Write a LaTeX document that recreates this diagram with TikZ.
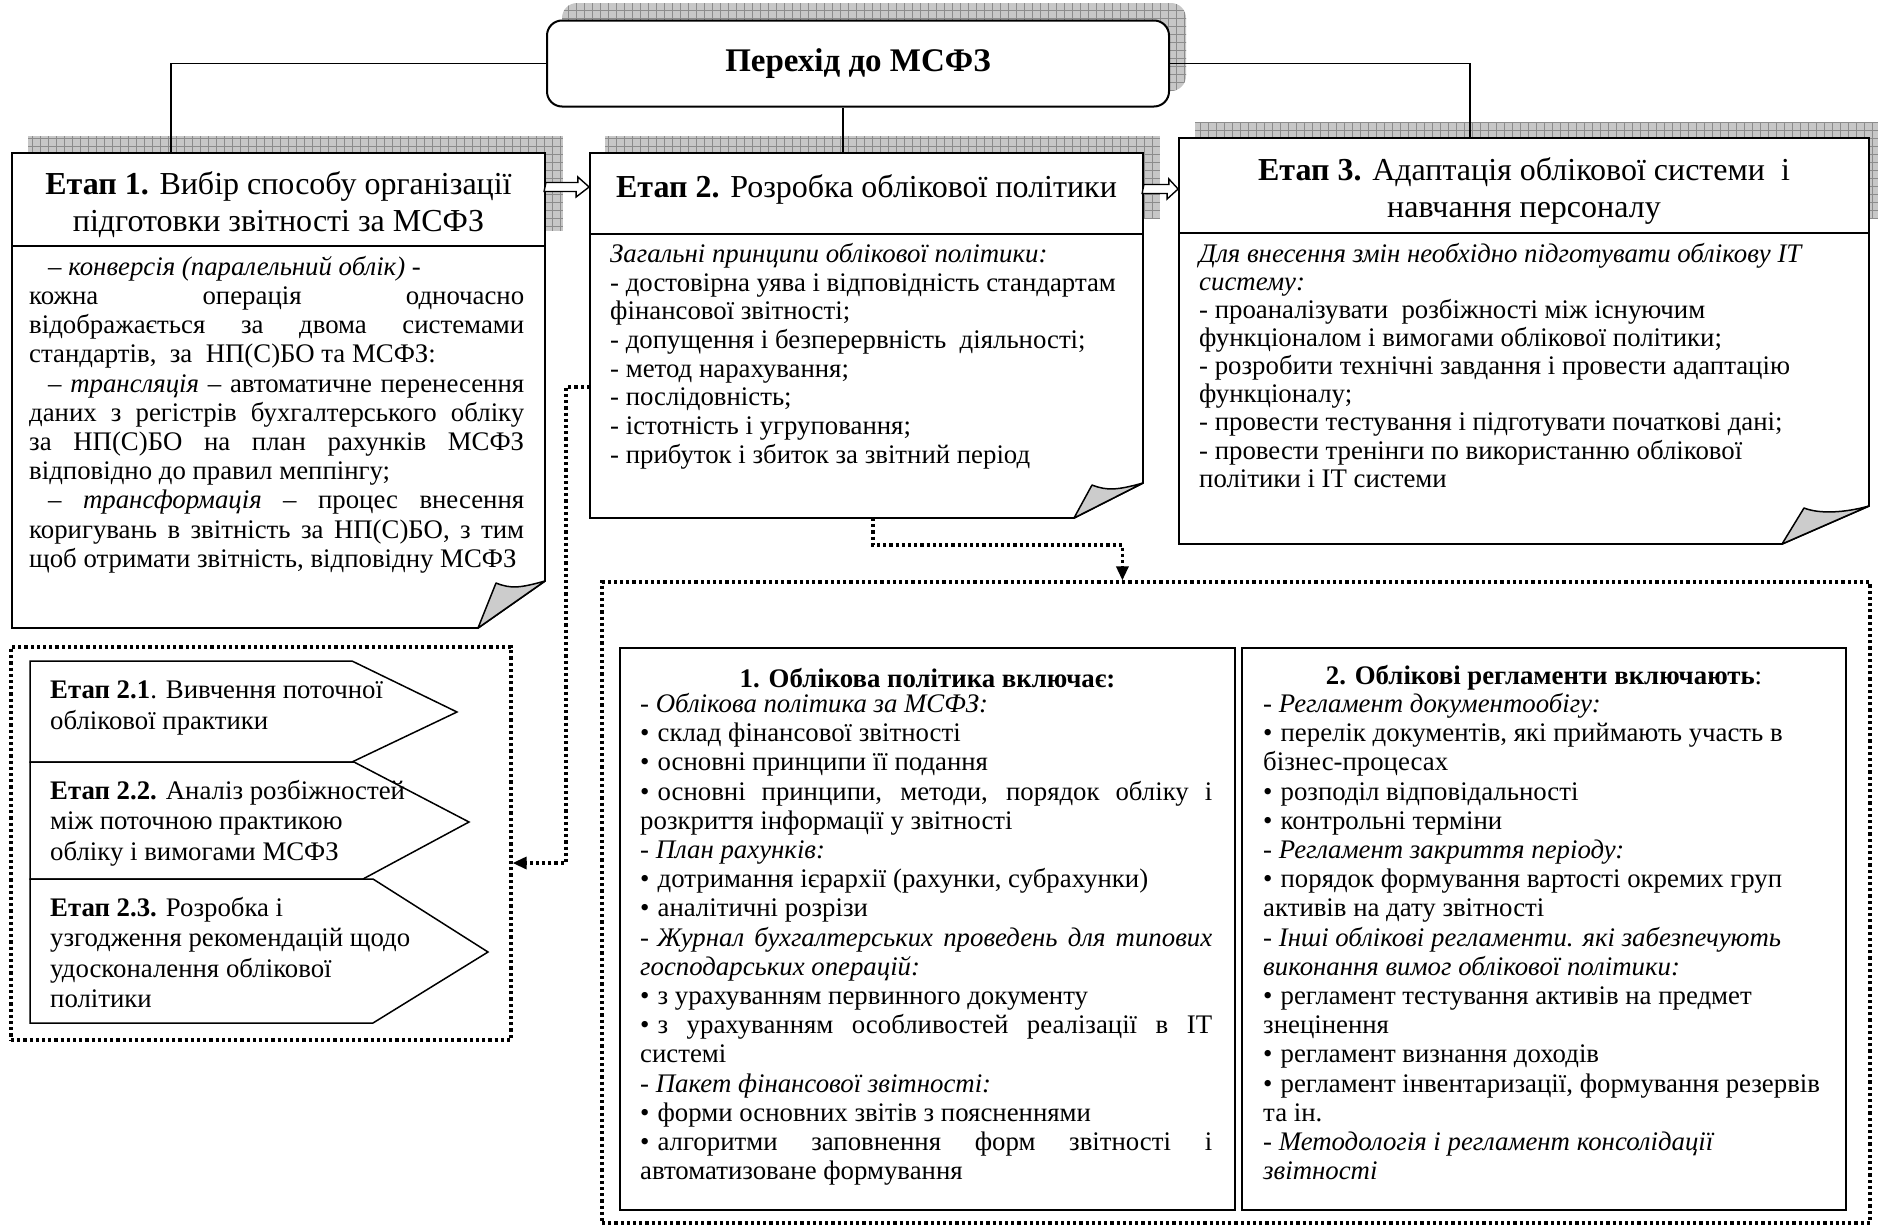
\documentclass[tikz,border=0pt]{standalone}
\usepackage{fontspec}
\setmainfont{Liberation Serif}
\usetikzlibrary{arrows.meta, positioning, calc, patterns.meta, backgrounds}

\newcommand{\jst}[2]{\makebox[#1][s]{#2}}
\newcommand{\bul}{•\hspace{0.3em}}
\newcommand{\txt}{\fontsize{26.8}{29.2}\selectfont}
\newcommand{\hdr}{\fontsize{32}{37}\selectfont}
\newcommand{\pagefold}[3]{%
  \filldraw[fill=gray!40, line width=1.5pt, line join=round]
    #1 .. controls +(-25,7) and +(15,6) .. #2 -- #3 -- cycle;}

\tikzset{
  shadowgrid/.style={fill=black!22, draw=none,
    postaction={pattern={Hatch[distance=8pt, line width=0.6pt]}, pattern color=black!45}},
  titlebox/.style={draw, line width=2pt, fill=white, rounded corners=15pt,
    font=\fontsize{33}{36}\selectfont\bfseries},
  headbox/.style={draw, line width=1.8pt, fill=white, inner sep=0pt},
  headtext/.style={align=center, font=\hdr, inner sep=0pt},
  bodyline/.style={line width=1.8pt, line join=miter},
  bodytext/.style={anchor=north west, align=left, inner sep=0pt, font=\txt},
  link/.style={line width=1.4pt},
  dots/.style={line width=3.2pt, dash pattern=on 3.2pt off 3pt},
  dotarrow/.style={dots, -{Triangle[length=14pt, width=12pt]}},
  blockarrow/.style={draw, line width=1.4pt, fill=white, line join=miter},
  plate/.style={draw, line width=1.5pt, fill=white, line join=miter},
  infobox/.style={draw, line width=2pt, minimum height=562pt, inner sep=0pt}
}

\begin{document}
\begin{tikzpicture}[x=1pt, y=-1pt, >=Stealth]
  \useasboundingbox (0,0) rectangle (1878,1226);

  % Top box
  \node[titlebox, minimum width=622pt, minimum height=86pt] (title) at (858,63.5) {Перехід до МСФЗ};

  % Stage headers
  \node[headbox, minimum width=533pt, minimum height=93pt] (e1h) at (278.5,199.5) {};
  \node[headbox, minimum width=553pt, minimum height=81pt] (e2h) at (866.5,193.5) {};
  \node[headbox, minimum width=690pt, minimum height=95pt] (e3h) at (1524,185.5) {};
  \node[headtext] (e1t) at ($(e1h.center)+(0,5)$)
    {\textbf{Етап 1.} Вибір способу організації\\підготовки звітності за МСФЗ};
  \node[headtext] (e2t) at ($(e2h.center)+(0,-4)$)
    {\textbf{Етап 2.} Розробка облікової політики};
  \node[headtext] (e3t) at ($(e3h.center)+(0,5)$)
    {\textbf{Етап 3.} Адаптація облікової системи \ і\\навчання персоналу};

  % Shadows
  \begin{scope}[on background layer]
    \fill[shadowgrid, rounded corners=15pt] ($(title.south west)+(16,-16.5)$) rectangle ($(title.north east)+(16,-16.5)$);
    \fill[shadowgrid] ($(e1h.south west)+(17,-16)$) rectangle ($(e1h.north east)+(17,-16)$);
    \fill[shadowgrid] ($(e2h.south west)+(16,-16)$) rectangle ($(e2h.north east)+(16,-16)$);
    \fill[shadowgrid] ($(e3h.south west)+(17,-15)$) rectangle ($(e3h.north east)+(17,-15)$);
  \end{scope}

  % Links from the top box
  \draw[link] (title.west) -| ($(e1h.north west)+(160,0)$);
  \coordinate (j2) at ($(e2h.north west)+(254,0)$);
  \draw[link] (j2) -- (j2 |- title.south);
  \draw[link] (title.east) -| ($(e3h.north west)+(292,0)$);

  % Stage bodies
  \draw[bodyline] (12,246) -- (12,628) -- (478,628) -- (545,581) -- (545,246);
  \pagefold{(545,581)}{(496,583)}{(478,628)}
  \draw[bodyline] (590,234) -- (590,518) -- (1074,518) -- (1143,483) -- (1143,234);
  \pagefold{(1143,483)}{(1092,485)}{(1074,518)}
  \draw[bodyline] (1179,233) -- (1179,544) -- (1782,544) -- (1869,506) -- (1869,233);
  \pagefold{(1869,506)}{(1804,508)}{(1782,544)}

  \node[bodytext] (b1) at (29,256) {%
    \hspace*{19pt}\textit{– конверсія (паралельний облік)} -\\
    \jst{495pt}{кожна операція одночасно}\\
    \jst{495pt}{відображається за двома системами}\\
    стандартів, \ за \ НП(С)БО та МСФЗ:\\
    \hspace*{19pt}\jst{476pt}{– \textit{трансляція} – автоматичне перенесення}\\
    \jst{495pt}{даних з регістрів бухгалтерського обліку}\\
    \jst{495pt}{за НП(С)БО на план рахунків МСФЗ}\\
    відповідно до правил меппінгу;\\
    \hspace*{19pt}\jst{476pt}{– \textit{трансформація} – процес внесення}\\
    \jst{495pt}{коригувань в звітність за НП(С)БО, з тим}\\
    щоб отримати звітність, відповідну МСФЗ};

  \node[bodytext, font=\fontsize{26.8}{28.7}\selectfont] (b2) at (610,243) {%
    \textit{Загальні принципи облікової політики:}\\
    - достовірна уява і відповідність стандартам\\
    фінансової звітності;\\
    - допущення і безперервність \ діяльності;\\
    - метод нарахування;\\
    - послідовність;\\
    - істотність і угруповання;\\
    - прибуток і збиток за звітний період};

  \node[bodytext, font=\fontsize{26.8}{28.1}\selectfont] (b3) at (1199,243) {%
    \textit{Для внесення змін необхідно підготувати облікову IT}\\
    \textit{системy:}\\
    - проаналізувати \ розбіжності між існуючим\\
    функціоналом і вимогами облікової політики;\\
    - розробити технічні завдання і провести адаптацію\\
    функціоналу;\\
    - провести тестування і підготувати початкові дані;\\
    - провести тренінги по використанню облікової\\
    політики і IT системи};

  % Stage arrows
  \coordinate (a1) at ($(e1h.east)+(0,-12.5)$);
  \draw[blockarrow] ($(a1)+(0,-4.5)$) -- ++(32,0) -- ++(0,-5.5) -- (a1 -| e2h.west)
    -- ++(-13,10) -- ++(0,-5.5) -- ++(-32,0) -- cycle;
  \coordinate (a2) at ($(e2h.east)+(0,-4.5)$);
  \draw[blockarrow] ($(a2)+(0,-4.5)$) -- ++(25,0) -- ++(0,-5.5) -- (a2 -| e3h.west)
    -- ++(-11,10) -- ++(0,-5.5) -- ++(-25,0) -- cycle;

  % Sub-stages of stage 2
  \node[dots, draw, minimum width=500pt, minimum height=393pt] (st2) at (261,843.5) {};
  \draw[plate] (30,661) -- (352,661) -- (457,712) -- (352,762) -- (30,762) -- cycle;
  \draw[plate] (30,762) -- (354,762) -- (469,822) -- (363,879) -- (30,879) -- cycle;
  \draw[plate] (30,879) -- (373,879) -- (488,952) -- (373,1023) -- (30,1023) -- cycle;
  \node[bodytext, font=\fontsize{26.8}{30.5}\selectfont] (p1) at (50,681)
    {\textbf{Етап 2.1}. Вивчення поточної\\облікової практики};
  \node[bodytext, font=\fontsize{26.8}{30.5}\selectfont] (p2) at (50,780)
    {\textbf{Етап 2.2.} Аналіз розбіжностей\\між поточною практикою\\обліку і вимогами МСФЗ};
  \node[bodytext, font=\fontsize{26.8}{30.5}\selectfont] (p3) at (50,897)
    {\textbf{Етап 2.3.} Розробка і\\узгодження рекомендацій щодо\\удосконалення облікової\\політики};

  % Policy and regulations
  \node[dots, draw, minimum width=1268pt, minimum height=641pt] (polbox) at (1236,902.5) {};
  \node[infobox, minimum width=615pt] (ib1) at (927.5,929) {};
  \node[infobox, minimum width=604pt] (ib2) at (1544,929) {};

  \node[font=\txt, inner sep=0pt] (t1) at (927.5,678) {\textbf{1. Облікова політика включає:}};
  \node[bodytext] (l1) at (640,693) {%
    \textit{- Облікова політика за МСФЗ:}\\
    \bul склад фінансової звітності\\
    \bul основні принципи її подання\\
    \jst{572pt}{\bul основні принципи, методи, порядок обліку і}\\
    розкриття інформації у звітності\\
    \textit{- План рахунків:}\\
    \bul дотримання ієрархії (рахунки, субрахунки)\\
    \bul аналітичні розрізи\\
    \jst{572pt}{\textit{-\hspace{0.3em}Журнал бухгалтерських проведень для типових}}\\
    \textit{господарських операцій:}\\
    \bul з урахуванням первинного документу\\
    \jst{572pt}{\bul з урахуванням особливостей реалізації в IT}\\
    системі\\
    \textit{- Пакет фінансової звітності:}\\
    \bul форми основних звітів з поясненнями\\
    \jst{572pt}{\bul алгоритми заповнення форм звітності і}\\
    автоматизоване формування};

  \node[font=\txt, inner sep=0pt] (t2) at (1544,678) {\textbf{2. Облікові регламенти включають}:};
  \node[bodytext] (l2) at (1263,693) {%
    \textit{- Регламент документообігу:}\\
    \bul перелік документів, які приймають участь в\\
    бізнес-процесах\\
    \bul розподіл відповідальності\\
    \bul контрольні терміни\\
    \textit{- Регламент закриття періоду:}\\
    \bul порядок формування вартості окремих груп\\
    активів на дату звітності\\
    \textit{- Інші облікові регламенти. які забезпечують}\\
    \textit{виконання вимог облікової політики:}\\
    \bul регламент тестування активів на предмет\\
    знецінення\\
    \bul регламент визнання доходів\\
    \bul регламент інвентаризації, формування резервів\\
    та ін.\\
    \textit{- Методологія і регламент консолідації}\\
    \textit{звітності}};

  % Dotted links
  \coordinate (b2l) at (590,387);
  \draw[dotarrow] (b2l) -- ++(-24,0) |- ($(st2.east)+(0,19.5)$);
  \coordinate (b2b) at (873,518);
  \draw[dotarrow] (b2b) -- ++(0,27) -| ($(polbox.north west)+(522,0)$);
\end{tikzpicture}
\end{document}
